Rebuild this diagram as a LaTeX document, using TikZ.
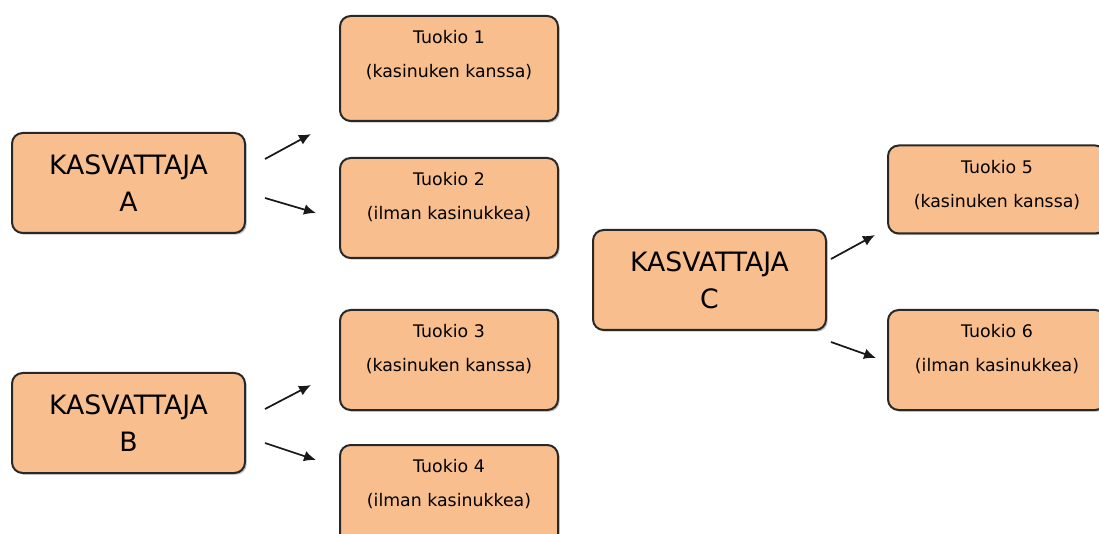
\documentclass[tikz,border=0pt]{standalone}
\usepackage{fontspec}
\setmainfont{DejaVu Sans}
\usepackage{tikz}
\usetikzlibrary{positioning,arrows.meta,shadows}
\definecolor{boxfill}{RGB}{248,190,141}
\definecolor{boxline}{RGB}{40,40,40}

\begin{document}
\begin{tikzpicture}[x=0.75pt, y=-0.75pt,
  box/.style={draw=boxline, line width=1.5pt, rounded corners=8pt, fill=boxfill,
    drop shadow={shadow xshift=1.3pt, shadow yshift=-1.3pt, opacity=0.35, fill=black!70}},
  breeder/.style={box, minimum width=174.75pt, minimum height=75pt, align=center,
    font=\fontsize{20}{28}\selectfont},
  sample/.style={box, minimum width=163.5pt, minimum height=75pt},
  sampletext/.style={align=center, font=\fontsize{13}{25.5}\selectfont},
  arr/.style={-{Latex[length=9pt,width=8pt]}, line width=1.3pt, draw=black!90}]
\useasboundingbox (0,0) rectangle (1099,534);
\node[breeder] (kA) at (128.5,183) {KASVATTAJA\\A};
\node[breeder] (kB) at (128.5,423) {KASVATTAJA\\B};
\node[breeder] (kC) at (709.5,280) {KASVATTAJA\\C};
\node[sample, minimum height=78.75pt] (t1) at (449,68.5) {};
\node[sample] (t2) at (449,208) {};
\node[sample] (t3) at (449,360) {};
\node[sample] (t4) at (449,495) {};
\node[sample, minimum height=66pt] (t5) at (997,189.5) {};
\node[sample] (t6) at (997,360) {};
\node[sampletext, below=8pt of t1.north] (t1txt) {Tuokio 1\\(kasinuken kanssa)};
\node[sampletext, below=8pt of t2.north] (t2txt) {Tuokio 2\\(ilman kasinukkea)};
\node[sampletext, below=8pt of t3.north] (t3txt) {Tuokio 3\\(kasinuken kanssa)};
\node[sampletext, below=8pt of t4.north] (t4txt) {Tuokio 4\\(ilman kasinukkea)};
\node[sampletext, below=8pt of t5.north] (t5txt) {Tuokio 5\\(kasinuken kanssa)};
\node[sampletext, below=8pt of t6.north] (t6txt) {Tuokio 6\\(ilman kasinukkea)};
\coordinate (a1s) at (265,159);
\coordinate (a1e) at (311,134);
\coordinate (a2s) at (265,198);
\coordinate (a2e) at (316,213);
\coordinate (b1s) at (265,409);
\coordinate (b1e) at (311,385);
\coordinate (b2s) at (265,443);
\coordinate (b2e) at (316,460);
\coordinate (c1s) at (831,259);
\coordinate (c1e) at (875,235);
\coordinate (c2s) at (831,342);
\coordinate (c2e) at (876,358);
\draw[arr] (a1s) -- (a1e);
\draw[arr] (a2s) -- (a2e);
\draw[arr] (b1s) -- (b1e);
\draw[arr] (b2s) -- (b2e);
\draw[arr] (c1s) -- (c1e);
\draw[arr] (c2s) -- (c2e);
\end{tikzpicture}
\end{document}
